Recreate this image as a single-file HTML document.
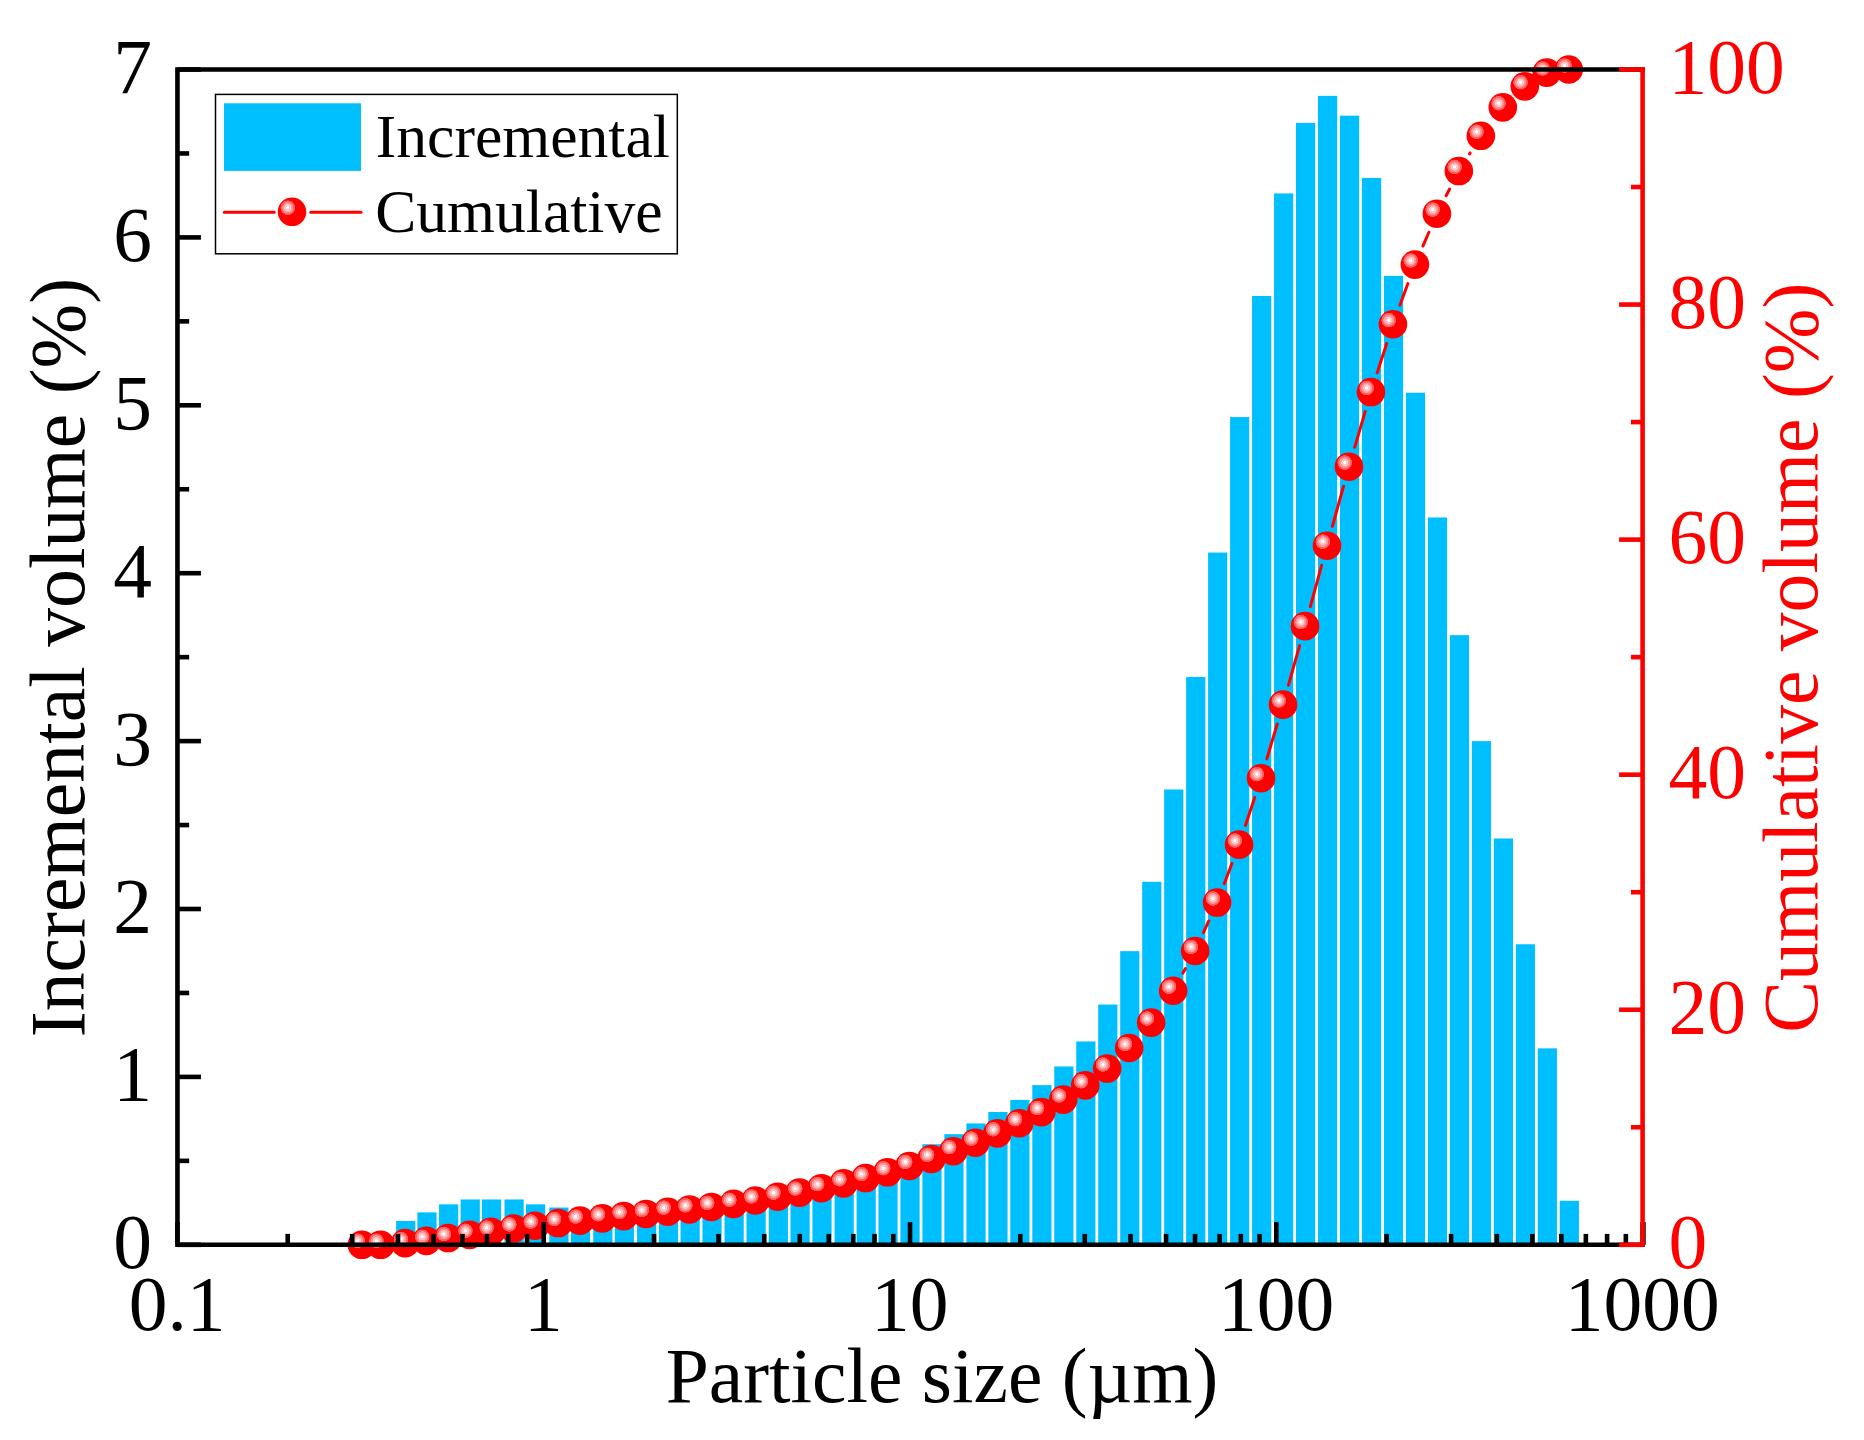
<!DOCTYPE html>
<html lang="en"><head><meta charset="utf-8"><title>Particle size distribution</title>
<style>html,body{margin:0;padding:0;background:#fff}body{width:1864px;height:1440px;overflow:hidden}svg{display:block}</style>
</head><body>
<svg width="1864" height="1440" viewBox="0 0 1864 1440" font-family="'Liberation Serif', 'Times New Roman', serif">
<defs>
<radialGradient id="hl" cx="0.5" cy="0.5" r="0.5">
<stop offset="0" stop-color="#ffffff"/><stop offset="0.17" stop-color="#ffffff"/>
<stop offset="0.24" stop-color="#ffcccc"/><stop offset="0.45" stop-color="#ffc6c6"/>
<stop offset="0.50" stop-color="#ff9999"/><stop offset="0.70" stop-color="#ff9494"/>
<stop offset="0.75" stop-color="#ff6363"/><stop offset="0.96" stop-color="#ff5e5e"/>
<stop offset="1" stop-color="#ff0000"/>
</radialGradient>
<g id="b"><circle r="14.3" fill="#ff0000"/><circle cx="-4.2" cy="-4.1" r="7.5" fill="url(#hl)"/></g>
</defs>
<rect width="1864" height="1440" fill="#fff"/>
<g fill="#00bfff">
<rect x="396.14" y="1220.96" width="19.2" height="23.84"/>
<rect x="417.38" y="1212.40" width="19.2" height="32.40"/>
<rect x="439.04" y="1204.34" width="19.2" height="40.46"/>
<rect x="460.64" y="1199.47" width="19.2" height="45.33"/>
<rect x="481.88" y="1199.47" width="19.2" height="45.33"/>
<rect x="504.50" y="1199.47" width="19.2" height="45.33"/>
<rect x="525.98" y="1204.34" width="19.2" height="40.46"/>
<rect x="549.30" y="1207.53" width="19.2" height="37.27"/>
<rect x="570.90" y="1210.38" width="19.2" height="34.42"/>
<rect x="593.24" y="1212.06" width="19.2" height="32.74"/>
<rect x="614.76" y="1212.90" width="19.2" height="31.90"/>
<rect x="637.08" y="1213.74" width="19.2" height="31.06"/>
<rect x="658.84" y="1212.90" width="19.2" height="31.90"/>
<rect x="680.53" y="1212.06" width="19.2" height="32.74"/>
<rect x="702.41" y="1209.54" width="19.2" height="35.26"/>
<rect x="724.54" y="1201.15" width="19.2" height="43.65"/>
<rect x="746.50" y="1196.11" width="19.2" height="48.69"/>
<rect x="768.74" y="1191.07" width="19.2" height="53.73"/>
<rect x="790.48" y="1186.03" width="19.2" height="58.77"/>
<rect x="812.39" y="1181.00" width="19.2" height="63.80"/>
<rect x="834.57" y="1175.96" width="19.2" height="68.84"/>
<rect x="856.56" y="1169.24" width="19.2" height="75.56"/>
<rect x="878.45" y="1162.53" width="19.2" height="82.27"/>
<rect x="900.42" y="1154.13" width="19.2" height="90.67"/>
<rect x="922.38" y="1144.23" width="19.2" height="100.57"/>
<rect x="944.35" y="1134.15" width="19.2" height="110.65"/>
<rect x="966.40" y="1123.41" width="19.2" height="121.39"/>
<rect x="988.35" y="1111.99" width="19.2" height="132.81"/>
<rect x="1010.29" y="1099.90" width="19.2" height="144.90"/>
<rect x="1032.30" y="1085.13" width="19.2" height="159.67"/>
<rect x="1054.25" y="1066.49" width="19.2" height="178.31"/>
<rect x="1076.25" y="1041.47" width="19.2" height="203.33"/>
<rect x="1098.20" y="1004.54" width="19.2" height="240.26"/>
<rect x="1120.19" y="951.14" width="19.2" height="293.66"/>
<rect x="1142.18" y="881.80" width="19.2" height="363.00"/>
<rect x="1164.15" y="789.46" width="19.2" height="455.34"/>
<rect x="1186.14" y="676.96" width="19.2" height="567.84"/>
<rect x="1208.10" y="552.55" width="19.2" height="692.25"/>
<rect x="1230.08" y="417.05" width="19.2" height="827.75"/>
<rect x="1252.06" y="296.00" width="19.2" height="948.80"/>
<rect x="1274.03" y="193.41" width="19.2" height="1051.39"/>
<rect x="1296.02" y="122.89" width="19.2" height="1121.91"/>
<rect x="1317.99" y="95.86" width="19.2" height="1148.94"/>
<rect x="1339.97" y="115.67" width="19.2" height="1129.13"/>
<rect x="1361.95" y="177.96" width="19.2" height="1066.84"/>
<rect x="1383.92" y="275.85" width="19.2" height="968.95"/>
<rect x="1405.90" y="392.71" width="19.2" height="852.09"/>
<rect x="1427.88" y="517.46" width="19.2" height="727.34"/>
<rect x="1449.86" y="635.16" width="19.2" height="609.64"/>
<rect x="1471.83" y="741.10" width="19.2" height="503.70"/>
<rect x="1493.81" y="838.48" width="19.2" height="406.32"/>
<rect x="1515.79" y="944.26" width="19.2" height="300.54"/>
<rect x="1537.76" y="1048.36" width="19.2" height="196.44"/>
<rect x="1559.74" y="1200.81" width="19.2" height="43.99"/>
</g>
<g stroke="#ff0000" stroke-width="3" stroke-linecap="round">
<line x1="1182.93" y1="973.07" x2="1185.36" y2="968.68"/>
<line x1="1203.48" y1="932.60" x2="1208.76" y2="920.95"/>
<line x1="1224.27" y1="883.67" x2="1231.91" y2="863.51"/>
<line x1="1245.43" y1="825.45" x2="1254.71" y2="797.41"/>
<line x1="1266.84" y1="758.87" x2="1277.25" y2="724.00"/>
<line x1="1288.48" y1="685.20" x2="1299.57" y2="645.59"/>
<line x1="1310.35" y1="606.65" x2="1321.67" y2="565.22"/>
<line x1="1332.41" y1="526.27" x2="1343.56" y2="486.17"/>
<line x1="1354.67" y1="447.33" x2="1365.24" y2="411.43"/>
<line x1="1377.18" y1="372.84" x2="1386.70" y2="343.46"/>
<line x1="1399.91" y1="305.29" x2="1407.91" y2="283.56"/>
<line x1="1422.91" y1="246.06" x2="1428.87" y2="232.25"/>
<line x1="1446.13" y1="195.75" x2="1449.61" y2="189.00"/>
<line x1="1469.54" y1="153.90" x2="1470.15" y2="152.94"/>
</g>
<g>
<use href="#b" x="361.88" y="1244.80"/>
<use href="#b" x="380.62" y="1244.80"/>
<use href="#b" x="405.14" y="1243.13"/>
<use href="#b" x="426.38" y="1240.86"/>
<use href="#b" x="448.04" y="1238.03"/>
<use href="#b" x="469.64" y="1234.86"/>
<use href="#b" x="490.88" y="1231.69"/>
<use href="#b" x="513.50" y="1228.51"/>
<use href="#b" x="534.98" y="1225.68"/>
<use href="#b" x="558.30" y="1223.07"/>
<use href="#b" x="579.90" y="1220.67"/>
<use href="#b" x="602.24" y="1218.37"/>
<use href="#b" x="623.76" y="1216.14"/>
<use href="#b" x="646.08" y="1213.97"/>
<use href="#b" x="667.84" y="1211.74"/>
<use href="#b" x="689.53" y="1209.44"/>
<use href="#b" x="711.41" y="1206.98"/>
<use href="#b" x="733.54" y="1203.92"/>
<use href="#b" x="755.50" y="1200.51"/>
<use href="#b" x="777.74" y="1196.75"/>
<use href="#b" x="799.48" y="1192.64"/>
<use href="#b" x="821.39" y="1188.18"/>
<use href="#b" x="843.57" y="1183.36"/>
<use href="#b" x="865.56" y="1178.07"/>
<use href="#b" x="887.45" y="1172.31"/>
<use href="#b" x="909.42" y="1165.97"/>
<use href="#b" x="931.38" y="1158.93"/>
<use href="#b" x="953.35" y="1151.19"/>
<use href="#b" x="975.40" y="1142.69"/>
<use href="#b" x="997.35" y="1133.40"/>
<use href="#b" x="1019.29" y="1123.26"/>
<use href="#b" x="1041.30" y="1112.08"/>
<use href="#b" x="1063.25" y="1099.60"/>
<use href="#b" x="1085.25" y="1085.38"/>
<use href="#b" x="1107.20" y="1068.56"/>
<use href="#b" x="1129.19" y="1048.01"/>
<use href="#b" x="1151.18" y="1022.61"/>
<use href="#b" x="1173.15" y="990.74"/>
<use href="#b" x="1195.14" y="951.00"/>
<use href="#b" x="1217.10" y="902.56"/>
<use href="#b" x="1239.08" y="844.63"/>
<use href="#b" x="1261.06" y="778.23"/>
<use href="#b" x="1283.03" y="704.65"/>
<use href="#b" x="1305.02" y="626.14"/>
<use href="#b" x="1326.99" y="545.73"/>
<use href="#b" x="1348.97" y="466.71"/>
<use href="#b" x="1370.95" y="392.05"/>
<use href="#b" x="1392.92" y="324.24"/>
<use href="#b" x="1414.90" y="264.61"/>
<use href="#b" x="1436.88" y="213.71"/>
<use href="#b" x="1458.86" y="171.04"/>
<use href="#b" x="1480.83" y="135.79"/>
<use href="#b" x="1502.81" y="107.36"/>
<use href="#b" x="1524.79" y="86.33"/>
<use href="#b" x="1546.76" y="72.58"/>
<use href="#b" x="1568.74" y="69.50"/>
</g>
<g stroke="#000" stroke-width="4.6" fill="none">
<path d="M1644.90 69.5H177.45V1244.8H1644.90" stroke-linejoin="miter" stroke-linecap="butt"/>
<line x1="177.45" y1="1244.80" x2="200.95" y2="1244.80"/>
<line x1="177.45" y1="1160.85" x2="189.14999999999998" y2="1160.85"/>
<line x1="177.45" y1="1076.90" x2="200.95" y2="1076.90"/>
<line x1="177.45" y1="992.95" x2="189.14999999999998" y2="992.95"/>
<line x1="177.45" y1="909.00" x2="200.95" y2="909.00"/>
<line x1="177.45" y1="825.05" x2="189.14999999999998" y2="825.05"/>
<line x1="177.45" y1="741.10" x2="200.95" y2="741.10"/>
<line x1="177.45" y1="657.15" x2="189.14999999999998" y2="657.15"/>
<line x1="177.45" y1="573.20" x2="200.95" y2="573.20"/>
<line x1="177.45" y1="489.25" x2="189.14999999999998" y2="489.25"/>
<line x1="177.45" y1="405.30" x2="200.95" y2="405.30"/>
<line x1="177.45" y1="321.35" x2="189.14999999999998" y2="321.35"/>
<line x1="177.45" y1="237.40" x2="200.95" y2="237.40"/>
<line x1="177.45" y1="153.45" x2="189.14999999999998" y2="153.45"/>
<line x1="177.45" y1="69.50" x2="200.95" y2="69.50"/>
<line x1="177.45" y1="1244.8" x2="177.45" y2="1222.10"/>
<line x1="287.71" y1="1244.8" x2="287.71" y2="1233.90"/>
<line x1="352.21" y1="1244.8" x2="352.21" y2="1233.90"/>
<line x1="397.98" y1="1244.8" x2="397.98" y2="1233.90"/>
<line x1="433.47" y1="1244.8" x2="433.47" y2="1233.90"/>
<line x1="462.48" y1="1244.8" x2="462.48" y2="1233.90"/>
<line x1="487.00" y1="1244.8" x2="487.00" y2="1233.90"/>
<line x1="508.24" y1="1244.8" x2="508.24" y2="1233.90"/>
<line x1="526.98" y1="1244.8" x2="526.98" y2="1233.90"/>
<line x1="543.74" y1="1244.8" x2="543.74" y2="1222.10"/>
<line x1="654.00" y1="1244.8" x2="654.00" y2="1233.90"/>
<line x1="718.50" y1="1244.8" x2="718.50" y2="1233.90"/>
<line x1="764.26" y1="1244.8" x2="764.26" y2="1233.90"/>
<line x1="799.76" y1="1244.8" x2="799.76" y2="1233.90"/>
<line x1="828.76" y1="1244.8" x2="828.76" y2="1233.90"/>
<line x1="853.29" y1="1244.8" x2="853.29" y2="1233.90"/>
<line x1="874.53" y1="1244.8" x2="874.53" y2="1233.90"/>
<line x1="893.26" y1="1244.8" x2="893.26" y2="1233.90"/>
<line x1="910.02" y1="1244.8" x2="910.02" y2="1222.10"/>
<line x1="1020.29" y1="1244.8" x2="1020.29" y2="1233.90"/>
<line x1="1084.79" y1="1244.8" x2="1084.79" y2="1233.90"/>
<line x1="1130.55" y1="1244.8" x2="1130.55" y2="1233.90"/>
<line x1="1166.05" y1="1244.8" x2="1166.05" y2="1233.90"/>
<line x1="1195.05" y1="1244.8" x2="1195.05" y2="1233.90"/>
<line x1="1219.57" y1="1244.8" x2="1219.57" y2="1233.90"/>
<line x1="1240.82" y1="1244.8" x2="1240.82" y2="1233.90"/>
<line x1="1259.55" y1="1244.8" x2="1259.55" y2="1233.90"/>
<line x1="1276.31" y1="1244.8" x2="1276.31" y2="1222.10"/>
<line x1="1386.58" y1="1244.8" x2="1386.58" y2="1233.90"/>
<line x1="1451.08" y1="1244.8" x2="1451.08" y2="1233.90"/>
<line x1="1496.84" y1="1244.8" x2="1496.84" y2="1233.90"/>
<line x1="1532.34" y1="1244.8" x2="1532.34" y2="1233.90"/>
<line x1="1561.34" y1="1244.8" x2="1561.34" y2="1233.90"/>
<line x1="1585.86" y1="1244.8" x2="1585.86" y2="1233.90"/>
<line x1="1607.10" y1="1244.8" x2="1607.10" y2="1233.90"/>
<line x1="1625.84" y1="1244.8" x2="1625.84" y2="1233.90"/>
<line x1="1642.60" y1="1244.8" x2="1642.60" y2="1222.10"/>
<line x1="1643.40" y1="1244.8" x2="1643.40" y2="1222.10"/>
</g>
<g stroke="#ff0000" stroke-width="4.6" fill="none">
<line x1="1642.6" y1="67.2" x2="1642.6" y2="1247.1"/>
<line x1="1642.6" y1="1244.80" x2="1619.1" y2="1244.80"/>
<line x1="1642.6" y1="1127.27" x2="1630.8999999999999" y2="1127.27"/>
<line x1="1642.6" y1="1009.74" x2="1619.1" y2="1009.74"/>
<line x1="1642.6" y1="892.21" x2="1630.8999999999999" y2="892.21"/>
<line x1="1642.6" y1="774.68" x2="1619.1" y2="774.68"/>
<line x1="1642.6" y1="657.15" x2="1630.8999999999999" y2="657.15"/>
<line x1="1642.6" y1="539.62" x2="1619.1" y2="539.62"/>
<line x1="1642.6" y1="422.09" x2="1630.8999999999999" y2="422.09"/>
<line x1="1642.6" y1="304.56" x2="1619.1" y2="304.56"/>
<line x1="1642.6" y1="187.03" x2="1630.8999999999999" y2="187.03"/>
<line x1="1642.6" y1="69.50" x2="1619.1" y2="69.50"/>
</g>
<g font-size="77.5" fill="#000">
<text transform="translate(152 1268.20) scale(1 1.02)" text-anchor="end">0</text>
<text transform="translate(152 1100.30) scale(1 1.02)" text-anchor="end">1</text>
<text transform="translate(152 932.40) scale(1 1.02)" text-anchor="end">2</text>
<text transform="translate(152 764.50) scale(1 1.02)" text-anchor="end">3</text>
<text transform="translate(152 596.60) scale(1 1.02)" text-anchor="end">4</text>
<text transform="translate(152 428.70) scale(1 1.02)" text-anchor="end">5</text>
<text transform="translate(152 260.80) scale(1 1.02)" text-anchor="end">6</text>
<text transform="translate(152 92.90) scale(1 1.02)" text-anchor="end">7</text>
<text transform="translate(177.15 1330.3) scale(1 1.02)" text-anchor="middle">0.1</text>
<text transform="translate(543.44 1330.3) scale(1 1.02)" text-anchor="middle">1</text>
<text transform="translate(909.72 1330.3) scale(1 1.02)" text-anchor="middle">10</text>
<text transform="translate(1276.01 1330.3) scale(1 1.02)" text-anchor="middle">100</text>
<text transform="translate(1642.30 1330.3) scale(1 1.02)" text-anchor="middle">1000</text>
<text x="942" y="1401.6" text-anchor="middle">Particle size (µm)</text>
<text transform="translate(83.9 657.5) rotate(-90)" font-size="77.7" text-anchor="middle">Incremental volume (%)</text>
</g>
<g font-size="77.5" fill="#ff0000">
<text transform="translate(1668.5 1268.40) scale(1 1.02)">0</text>
<text transform="translate(1668.5 1033.34) scale(1 1.02)">20</text>
<text transform="translate(1668.5 798.28) scale(1 1.02)">40</text>
<text transform="translate(1668.5 563.22) scale(1 1.02)">60</text>
<text transform="translate(1668.5 328.16) scale(1 1.02)">80</text>
<text transform="translate(1668.5 93.10) scale(1 1.02)">100</text>
<text transform="translate(1817.3 657.7) rotate(-90)" font-size="77.6" text-anchor="middle">Cumulative volume (%)</text>
</g>
<rect x="215.5" y="94.4" width="461.8" height="159.4" fill="#fff" stroke="#000" stroke-width="1.5"/>
<rect x="224" y="103.3" width="137" height="67.6" fill="#00bfff"/>
<g stroke="#ff0000" stroke-width="3" stroke-linecap="round"><line x1="224.3" y1="212.2" x2="274.2" y2="212.2"/><line x1="310.8" y1="212.2" x2="361" y2="212.2"/></g>
<use href="#b" x="292" y="211.8"/>
<g font-size="61.6" fill="#000"><text x="375.8" y="157">Incremental</text><text x="375.2" y="232.3">Cumulative</text></g>
</svg>
</body></html>
